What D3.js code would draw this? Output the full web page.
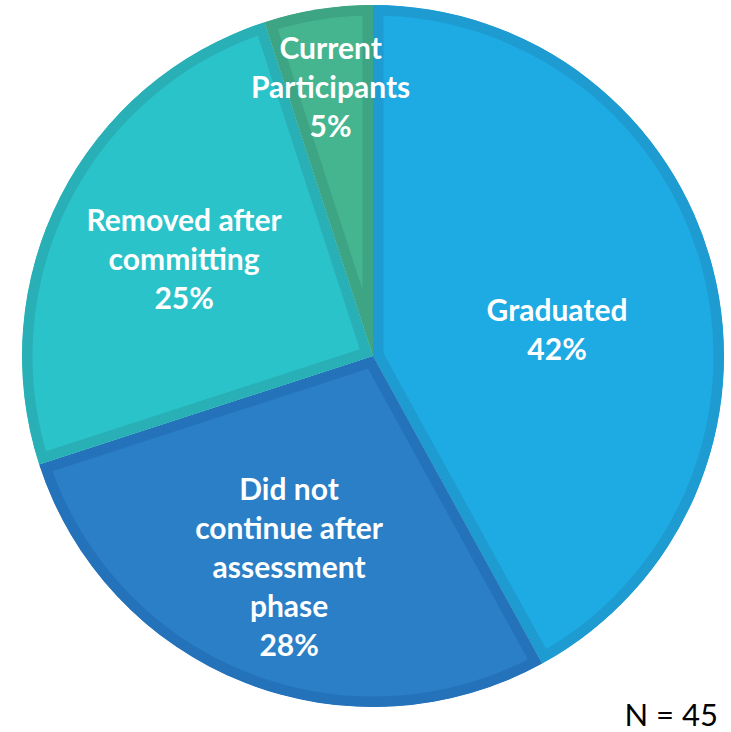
<!DOCTYPE html>
<html><head><meta charset="utf-8">
<script src="https://cdn.jsdelivr.net/npm/d3@7/dist/d3.min.js"></script>
<style>body{margin:0;background:#fff;} svg{display:block;}</style>
</head><body>
<svg id="c" width="731" height="732"></svg>
<script>
const categories = ["Graduated", "Did not continue after assessment phase", "Removed after committing", "Current Participants"];
const values = [42, 28, 25, 5];
const labelLines = [["Graduated","42%"],["Did not","continue after","assessment","phase","28%"],["Removed after","committing","25%"],["Current","Participants","5%"]];
const fills = ["#1EAAE2", "#2A7FC6", "#2AC3C9", "#45B58F"];
const borders = ["#1E9BD1", "#2472BA", "#29B0B6", "#3DA484"];
const labelR = [190, 228, 212, 271];
const labelDy = [22, 0, 0, 0];
const note = "N = 45";

const svg = d3.select("#c");
const cx = 373, cy = 356, R = 351;
const g = svg.append("g").attr("transform", `translate(${cx},${cy})`);
const pie = d3.pie().sort(null).value(d => d)(values);
const arc = d3.arc().innerRadius(0).outerRadius(R);
const defs = svg.append("defs");
pie.forEach((p, i) => {
  defs.append("clipPath").attr("id", "cp" + i).append("path").attr("d", arc(p));
});
g.selectAll("path.s").data(pie).join("path").attr("class","s")
  .attr("d", arc).attr("fill", (d,i) => fills[i])
  .attr("stroke", (d,i) => borders[i]).attr("stroke-width", 21)
  .attr("stroke-linejoin","miter")
  .attr("clip-path", (d,i) => `url(#cp${i})`);

const lh = 39;
pie.forEach((p, i) => {
  const a = (p.startAngle + p.endAngle) / 2;
  const x = Math.sin(a) * labelR[i];
  const y = -Math.cos(a) * labelR[i] + labelDy[i];
  const lines = labelLines[i];
  const t = g.append("text").attr("text-anchor","middle").attr("fill","#fff")
    .attr("font-family","Lato, 'Open Sans', sans-serif").attr("font-weight","bold").attr("font-size",30);
  lines.forEach((ln, k) => {
    t.append("tspan").attr("x", x).attr("y", y + (k - (lines.length-1)/2) * lh + 10).text(ln);
  });
});
svg.append("text").attr("x", 718).attr("y", 726).attr("text-anchor","end")
  .attr("font-family","Lato, 'Open Sans', sans-serif").attr("font-size",31).attr("fill","#000").text(note);
</script>
</body></html>
